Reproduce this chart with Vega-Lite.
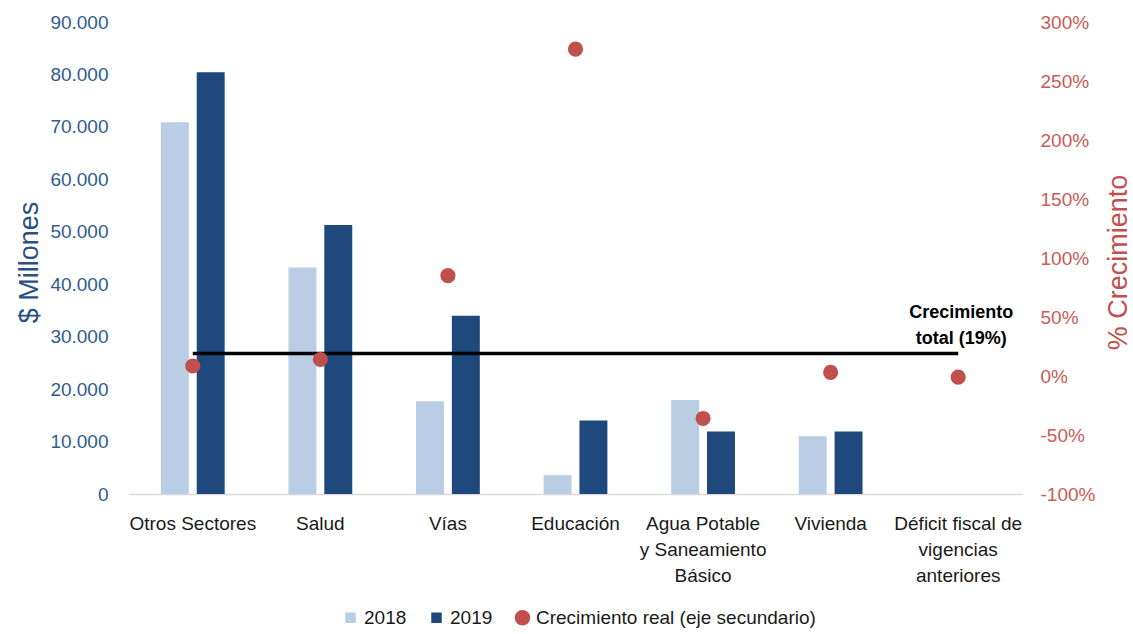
{
  "$schema": "https://vega.github.io/schema/vega-lite/v6.json",
  "autosize": {"type": "none"},
  "width": 893,
  "height": 472,
  "padding": {"left": 129, "top": 22, "right": 111, "bottom": 140},
  "background": "white",
  "config": {
    "view": {"stroke": null},
    "font": "Liberation Sans",
    "axis": {"labelFont": "Liberation Sans", "titleFont": "Liberation Sans"}
  },
  "datasets": {
    "bars": [
      {"sector": "Otros Sectores", "serie": "2018", "valor": 70900},
      {"sector": "Otros Sectores", "serie": "2019", "valor": 80400},
      {"sector": "Salud", "serie": "2018", "valor": 43200},
      {"sector": "Salud", "serie": "2019", "valor": 51300},
      {"sector": "Vías", "serie": "2018", "valor": 17700},
      {"sector": "Vías", "serie": "2019", "valor": 34000},
      {"sector": "Educación", "serie": "2018", "valor": 3600},
      {"sector": "Educación", "serie": "2019", "valor": 14000},
      {"sector": "Agua Potable y Saneamiento Básico", "serie": "2018", "valor": 17900},
      {"sector": "Agua Potable y Saneamiento Básico", "serie": "2019", "valor": 11900},
      {"sector": "Vivienda", "serie": "2018", "valor": 11000},
      {"sector": "Vivienda", "serie": "2019", "valor": 11900},
      {"sector": "Déficit fiscal de vigencias anteriores", "serie": "2018", "valor": 0},
      {"sector": "Déficit fiscal de vigencias anteriores", "serie": "2019", "valor": 0}
    ],
    "growth": [
      {"sector": "Otros Sectores", "serie": "Crecimiento real (eje secundario)", "pct": 0.085},
      {"sector": "Salud", "serie": "Crecimiento real (eje secundario)", "pct": 0.14},
      {"sector": "Vías", "serie": "Crecimiento real (eje secundario)", "pct": 0.85},
      {"sector": "Educación", "serie": "Crecimiento real (eje secundario)", "pct": 2.77},
      {"sector": "Agua Potable y Saneamiento Básico", "serie": "Crecimiento real (eje secundario)", "pct": -0.36},
      {"sector": "Vivienda", "serie": "Crecimiento real (eje secundario)", "pct": 0.03},
      {"sector": "Déficit fiscal de vigencias anteriores", "serie": "Crecimiento real (eje secundario)", "pct": -0.01}
    ],
    "total": [
      {"sector": "Otros Sectores", "pct": 0.19},
      {"sector": "Déficit fiscal de vigencias anteriores", "pct": 0.19}
    ],
    "note": [
      {"sector": "Déficit fiscal de vigencias anteriores", "pct": 0.19, "label": ["Crecimiento", "total (19%)"]}
    ]
  },
  "encoding": {
    "x": {
      "field": "sector",
      "type": "nominal",
      "sort": null,
      "scale": {
        "domain": ["Otros Sectores", "Salud", "Vías", "Educación", "Agua Potable y Saneamiento Básico", "Vivienda", "Déficit fiscal de vigencias anteriores"],
        "paddingInner": 0.5,
        "paddingOuter": 0.25
      },
      "axis": {
        "title": null,
        "labelAngle": 0,
        "labelFontSize": 19,
        "labelColor": "#1a1a1a",
        "labelPadding": 20,
        "labelLineHeight": 26,
        "labelBaseline": "top",
        "labelLimit": 300,
        "ticks": false,
        "domainColor": "#d9d9d9",
        "domainWidth": 1.5,
        "labelExpr": "datum.value == 'Agua Potable y Saneamiento Básico' ? ['Agua Potable', 'y Saneamiento', 'Básico'] : datum.value == 'Déficit fiscal de vigencias anteriores' ? ['Déficit fiscal de', 'vigencias', 'anteriores'] : datum.value"
      }
    }
  },
  "layer": [
    {
      "data": {"name": "bars"},
      "mark": {"type": "bar"},
      "encoding": {
        "xOffset": {"field": "serie", "type": "nominal", "scale": {"domain": ["2018", "2019"], "paddingInner": 0.22, "paddingOuter": 0}},
        "y": {
          "field": "valor",
          "type": "quantitative",
          "scale": {"domain": [0, 90000], "nice": false},
          "axis": {
            "values": [0, 10000, 20000, 30000, 40000, 50000, 60000, 70000, 80000, 90000],
            "labelExpr": "replace(format(datum.value, ','), ',', '.')",
            "grid": false,
            "domain": false,
            "ticks": false,
            "labelPadding": 21,
            "labelFontSize": 19,
            "labelColor": "#2f5b8f",
            "title": "$ Millones",
            "titleFontSize": 27,
            "titleFontWeight": "normal",
            "titleColor": "#2a5080",
            "titleAngle": -90,
            "titleX": -100,
            "titleY": 240,
            "titleAlign": "center",
            "titleBaseline": "middle"
          }
        },
        "color": {
          "field": "serie",
          "type": "nominal",
          "scale": {"domain": ["2018", "2019", "Crecimiento real (eje secundario)"], "range": ["#b9cde5", "#1f497d", "#c0504d"]},
          "legend": {
            "title": null,
            "orient": "none",
            "direction": "horizontal",
            "legendX": 212,
            "legendY": 586,
            "labelFontSize": 19,
            "labelColor": "#1a1a1a",
            "labelFont": "Liberation Sans",
            "labelLimit": 0,
            "symbolSize": 110,
            "symbolStrokeWidth": 0,
            "labelOffset": 4,
            "columnPadding": 20,
            "encode": {
              "symbols": {
                "update": {
                  "shape": {"signal": "datum.value == 'Crecimiento real (eje secundario)' ? 'circle' : 'square'"},
                  "size": {"signal": "datum.value == 'Crecimiento real (eje secundario)' ? 240 : 110"}
                }
              }
            }
          }
        }
      }
    },
    {
      "encoding": {
        "y": {
          "field": "pct",
          "type": "quantitative",
          "scale": {"domain": [-1, 3], "nice": false},
          "axis": {
            "orient": "right",
            "values": [-1, -0.5, 0, 0.5, 1, 1.5, 2, 2.5, 3],
            "labelExpr": "replace(format(datum.value, '.0%'), '−', '-')",
            "grid": false,
            "domain": false,
            "ticks": false,
            "labelPadding": 18,
            "labelFontSize": 19,
            "labelColor": "#c95a57",
            "title": "% Crecimiento",
            "titleFontSize": 27,
            "titleFontWeight": "normal",
            "titleColor": "#c0504d",
            "titleAngle": -90,
            "titleX": 96,
            "titleY": 240,
            "titleAlign": "center",
            "titleBaseline": "middle"
          }
        }
      },
      "layer": [
        {
          "data": {"name": "total"},
          "mark": {"type": "line", "color": "#000000", "strokeWidth": 3.5, "strokeCap": "butt"}
        },
        {
          "data": {"name": "growth"},
          "mark": {"type": "point", "filled": true, "opacity": 1, "size": 230, "shape": "circle"},
          "encoding": {
            "color": {"field": "serie", "type": "nominal"}
          }
        },
        {
          "data": {"name": "note"},
          "mark": {"type": "text", "fontWeight": "bold", "fontSize": 18, "font": "Liberation Sans", "color": "#000000", "align": "center", "baseline": "middle", "lineHeight": 26, "dy": -41, "dx": 3},
          "encoding": {"text": {"field": "label"}}
        }
      ]
    }
  ],
  "resolve": {"scale": {"y": "independent"}}
}
